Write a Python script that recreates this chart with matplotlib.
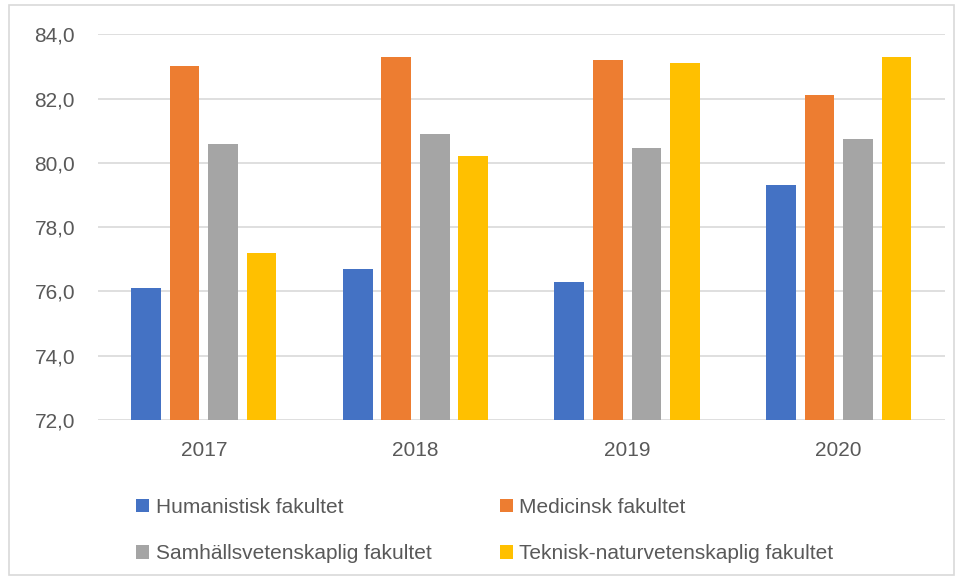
import numpy as np
import matplotlib.pyplot as plt
from matplotlib.patches import Rectangle

years = ['2017', '2018', '2019', '2020']
series = ['Humanistisk fakultet', 'Medicinsk fakultet',
          'Samhällsvetenskaplig fakultet', 'Teknisk-naturvetenskaplig fakultet']
humanistisk = [76.1, 76.7, 76.3, 79.3]
medicinsk = [83.0, 83.3, 83.2, 82.1]
samhall = [80.6, 80.9, 80.45, 80.75]
teknisk = [77.2, 80.2, 83.1, 83.3]
colors = ['#4472C4', '#ED7D31', '#A5A5A5', '#FFC000']

plt.rcParams['font.family'] = ['Liberation Sans', 'DejaVu Sans']
fig = plt.figure(figsize=(9.63, 5.8), dpi=100)
ax = fig.add_axes([0.1018, 0.276, 0.879, 0.665])

x = np.arange(len(years))
w = 0.14
step = 0.182
bars = []
for i, (vals, name) in enumerate(zip([humanistisk, medicinsk, samhall, teknisk], series)):
    bars.append(ax.bar(x + (i - 1.5) * step, vals, w, color=colors[i], label=name, zorder=3))

ax.set_ylim(72, 84)
ax.set_xlim(-0.5, 3.5)
ax.set_yticks(np.arange(72, 84.1, 2))
ax.set_yticklabels([f'{v:.1f}'.replace('.', ',') for v in np.arange(72, 84.1, 2)])
ax.set_xticks(x)
ax.set_xticklabels(years)
ax.grid(axis='y', color='#D9D9D9', linewidth=1.2, zorder=0)
for s in ax.spines.values():
    s.set_visible(False)
ax.tick_params(length=0, labelsize=15, colors='#595959', pad=16.5)
ax.tick_params(axis='x', pad=15)

# row-wise order: Hum, Med / Sam, Tek
order = [0, 2, 1, 3]
leg = fig.legend([bars[i] for i in order], [series[i] for i in order],
                 loc='upper left', bbox_to_anchor=(0.122, 0.174), ncol=2, frameon=False,
                 fontsize=15, handlelength=0.62, handleheight=0.62, handletextpad=0.33,
                 columnspacing=3.26, labelspacing=1.32)
for t in leg.get_texts():
    t.set_color('#595959')

fig.patches.append(Rectangle((0.009, 0.008), 0.982, 0.984, transform=fig.transFigure,
                             fill=False, edgecolor='#D9D9D9', linewidth=1.2))

fig.savefig('out.png', dpi=100)
